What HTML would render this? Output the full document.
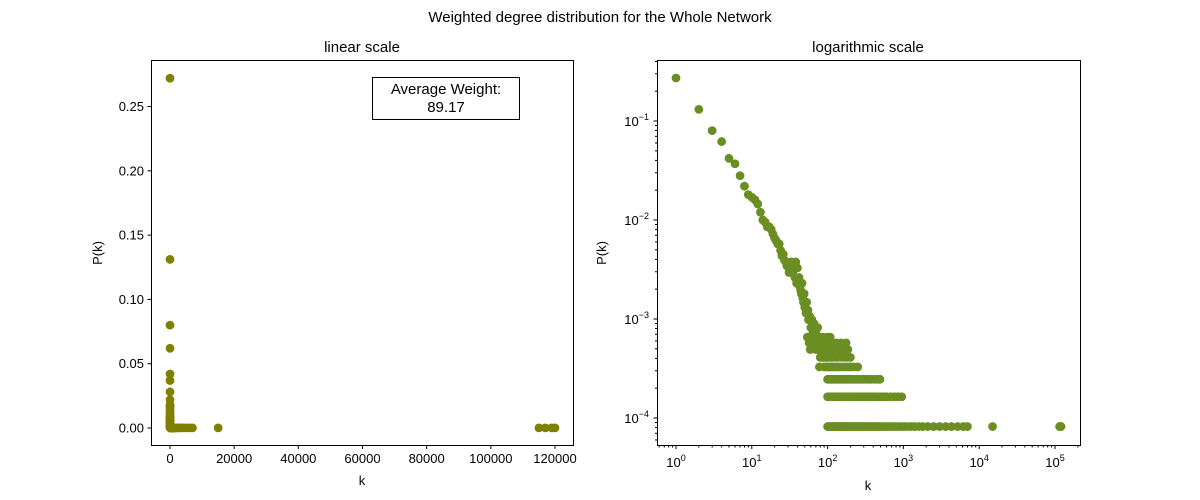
<!DOCTYPE html>
<html><head><meta charset="utf-8"><style>
body{margin:0;background:#fff;}
svg{display:block;font-family:"Liberation Sans","DejaVu Sans",sans-serif;}
</style></head><body>
<svg id="fig" width="1200" height="500" viewBox="0 0 1200 500">
<rect width="1200" height="500" fill="#fff"/>
<text x="600" y="22" font-size="15" text-anchor="middle">Weighted degree distribution for the Whole Network</text>
<text x="362" y="52" font-size="15" text-anchor="middle">linear scale</text>
<text x="868" y="52" font-size="15" text-anchor="middle">logarithmic scale</text>
<text x="362" y="485" font-size="13" text-anchor="middle">k</text>
<text x="868" y="490" font-size="13" text-anchor="middle">k</text>
<text transform="translate(102,253) rotate(-90)" font-size="13" text-anchor="middle">P(k)</text>
<text transform="translate(606,253) rotate(-90)" font-size="13" text-anchor="middle">P(k)</text>
<g id="left"></g>
<g id="right"></g>
<g>
<rect x="372.5" y="77.5" width="147" height="42" fill="#fff" stroke="#000" stroke-width="1"/>
<text x="446" y="94" font-size="15" text-anchor="middle">Average Weight:</text>
<text x="446" y="112" font-size="15" text-anchor="middle">89.17</text>
</g>
</svg>
<script>
const totalNodes = 12200;
const headK = [1,2,3,4,5,6,7,8,9,10,11,12,13,14,15,16,17,18,19,20,21,22,23,24,25,26,27,28,29,30,31,32,33,34,35,36,37,38,39,40,41,42,43,44,45,46,47,48,49,50,52,53,54,55,56,58,60,62,64,66,68,70,72,74,76,78,80,82,85,88,90,93,96];
const headCount = [3318,1600,976,756,512,451,342,268,220,207,195,177,146,122,116,104,104,98,88,80,75,70,70,60,53,55,48,46,42,45,36,40,46,38,37,44,32,46,28,40,30,32,26,24,22,28,20,18,22,16,14,18,8,15,12,13,10,12,9,11,8,9,7,10,6,8,7,6,5,7,6,5,6];
const level8K = [61,67,73,79,86,98,108];
const level7K = [57,65,75,88,96,110,130,150,175];
const level6K = [59,70,84,92,104,118,140,160,185];
const level5K = [80,86,95,100,108,115,125,135,150,165,180,200];
const level4K = [78,90,98,105,112,120,130,140,155,170,185,200,220,250];
const level3K = [100,106,112,118,125,132,140,148,157,166,176,186,198,210,225,240,260,280,300,325,350,380,420,460,490];
const level2K = [100,105,110,117,124,131,140,148,156,165,175,185,196,208,220,232,245,260,275,290,310,330,350,375,400,430,460,500,550,600,680,760,850,950];
const level1K = [100,104,108,112,118,121,125,130,135,140,145,150,155,160,166,172,178,185,190,200,210,220,230,240,250,260,270,285,300,315,330,350,370,390,410,430,460,490,520,560,600,650,700,760,820,900,1000,1100,1250,1400,1600,1800,2100,2500,3000,3600,4300,5200,6200,7000,15000,115000,117000,119000,120000];
const leftXTicks = [0,20000,40000,60000,80000,100000,120000];
const leftYTicks = [0,0.05,0.10,0.15,0.20,0.25];
const rightXExp = [0,1,2,3,4,5];
const rightYExp = [-4,-3,-2,-1];

const NS="http://www.w3.org/2000/svg";
function mk(tag,attrs,parent){const e=document.createElementNS(NS,tag);for(const k in attrs)e.setAttribute(k,attrs[k]);parent.appendChild(e);return e;}
const pts=[];
headK.forEach((k,i)=>pts.push([k,headCount[i]/totalNodes]));
[[level8K,8],[level7K,7],[level6K,6],[level5K,5],[level4K,4],[level3K,3],[level2K,2],[level1K,1]].forEach(([arr,c])=>arr.forEach(k=>pts.push([k,c/totalNodes])));

const L={x0:151,x1:573,y0:60,y1:445};
const lx=v=>170+v*(555-170)/120000;
const ly=v=>428-v*(428-106.5)/0.25;
const gl=document.getElementById('left');
pts.forEach(p=>{const c=mk('circle',{cx:lx(p[0]),cy:ly(p[1]),r:4.4,fill:'#808000'},gl);

});
mk('rect',{x:L.x0+.5,y:L.y0+.5,width:L.x1-L.x0,height:L.y1-L.y0,fill:'none',stroke:'#000','stroke-width':1},gl);
leftXTicks.forEach(v=>{const x=lx(v);mk('line',{x1:x,x2:x,y1:L.y1+.5,y2:L.y1+4,stroke:'#000'},gl);
const t=mk('text',{x:x,y:L.y1+18,'font-size':13,'text-anchor':'middle'},gl);t.textContent=String(v);

});
leftYTicks.forEach(v=>{const y=ly(v);mk('line',{x1:L.x0-3.5,x2:L.x0+.5,y1:y,y2:y,stroke:'#000'},gl);
const t=mk('text',{x:L.x0-7,y:y+4.5,'font-size':13,'text-anchor':'end'},gl);t.textContent=v.toFixed(2);

});

const R={x0:657,x1:1080,y0:60,y1:445};
const rx=v=>676+Math.log10(v)*75.8;
const ry=v=>418-(Math.log10(v)+4)*99;
const gr=document.getElementById('right');
pts.forEach(p=>{const c=mk('circle',{cx:rx(p[0]),cy:ry(p[1]),r:4.4,fill:'#6b8e23'},gr);

});
mk('rect',{x:R.x0+.5,y:R.y0+.5,width:R.x1-R.x0,height:R.y1-R.y0,fill:'none',stroke:'#000','stroke-width':1},gr);
for(let e=-1;e<=5;e++)for(let m=1;m<10;m++){const x=rx(m*Math.pow(10,e));if(x<R.x0||x>R.x1)continue;
mk('line',{x1:x,x2:x,y1:R.y1+.5,y2:R.y1+(m==1?4:2.5),stroke:'#000'},gr);}
for(let e=-5;e<=0;e++)for(let m=1;m<10;m++){const y=ry(m*Math.pow(10,e));if(y<R.y0||y>R.y1)continue;
mk('line',{x1:R.x0-(m==1?3.5:2),x2:R.x0+.5,y1:y,y2:y,stroke:'#000'},gr);}
rightXExp.forEach(e=>{const x=rx(Math.pow(10,e));const t=mk('text',{x:x,y:R.y1+22,'font-size':13,'text-anchor':'middle'},gr);
t.innerHTML='10<tspan dy="-6" font-size="9">'+e+'</tspan>';

});
rightYExp.forEach(e=>{const y=ry(Math.pow(10,e));const t=mk('text',{x:R.x0-8,y:y+5,'font-size':13,'text-anchor':'end'},gr);
t.innerHTML='10<tspan dy="-6" font-size="9">'+(e<0?'\u2212'+(-e):e)+'</tspan>';

});
</script>
</body></html>
